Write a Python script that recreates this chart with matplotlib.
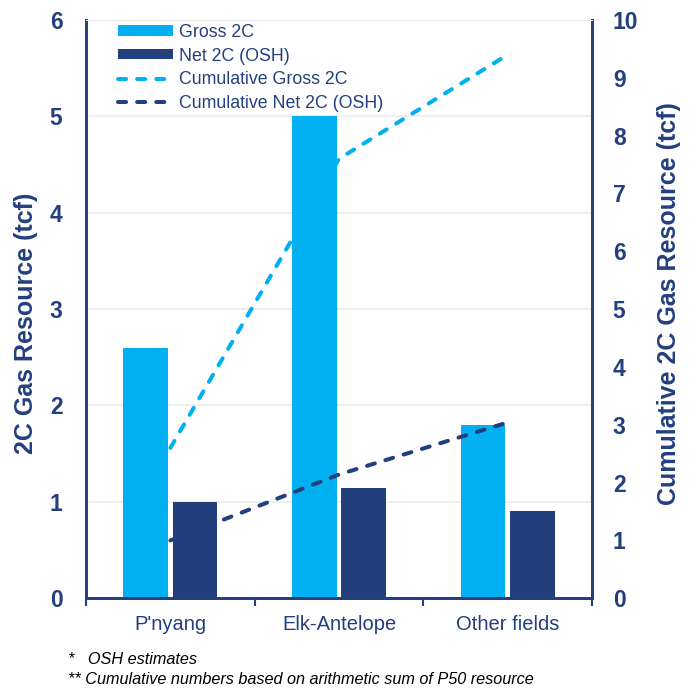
import numpy as np
import matplotlib
matplotlib.use("Agg")
import matplotlib.pyplot as plt

plt.rcParams['font.family'] = ['Liberation Sans', 'DejaVu Sans']

NAVY = "#243F7E"
LIGHT = "#00B0F0"

# --- Data ---
fields = ["P'nyang", "Elk-Antelope", "Other fields"]
gross_2c = [2.6, 5.0, 1.8]
net_2c = [1.0, 1.14, 0.9]
cum_gross = [2.6, 7.6, 9.4]
cum_net = [1.0, 2.14, 3.04]

fig = plt.figure(figsize=(6.94, 6.90), dpi=100)
ax = fig.add_axes([0.124, 0.133, 0.729, 0.838])
ax2 = ax.twinx()

x = np.arange(len(fields))
w = 0.265
ax.bar(x - w / 2 - 0.013, gross_2c, w, color=LIGHT, label="Gross 2C", zorder=2)
ax.bar(x + w / 2 + 0.013, net_2c, w, color=NAVY, label="Net 2C (OSH)", zorder=2)

dash = (0, (2.0, 2.75))
ax2.plot(x, cum_gross, color=LIGHT, lw=2.9, ls=dash,
         dash_capstyle='round', label="Cumulative Gross 2C")
ax2.plot(x, cum_net, color=NAVY, lw=2.9, ls=dash,
         dash_capstyle='round', label="Cumulative Net 2C (OSH)")

ax.set_xlim(-0.5, 2.5)
ax.set_ylim(0, 6)
ax2.set_ylim(0, 10)
ax.set_yticks(range(7))
ax2.set_yticks(range(11))
ax.yaxis.grid(True, color="#EBEBEB", lw=1.2, zorder=0)
ax.set_axisbelow(True)

ax.set_xticks(x)
ax.set_xticklabels(fields, fontsize=14.5, color=NAVY)
ax.set_xticks([-0.5, 0.5, 1.5, 2.5], minor=True)
ax.tick_params(axis='x', which='major', length=0, pad=12)
ax.tick_params(axis='x', which='minor', length=6, width=1.5, color=NAVY, direction='out')
ax.tick_params(axis='y', length=0, pad=17, labelsize=16.5, labelcolor=NAVY)
ax2.tick_params(axis='y', length=0, pad=15, labelsize=16.5, labelcolor=NAVY)
for lab in ax.get_yticklabels() + ax2.get_yticklabels():
    lab.set_fontweight('bold')

for a in (ax, ax2):
    for side in ('left', 'right', 'bottom'):
        a.spines[side].set_color(NAVY)
        a.spines[side].set_linewidth(2)
    a.spines['top'].set_color("#EBEBEB")

ax.set_ylabel("2C Gas Resource (tcf)", fontsize=18, fontweight='bold', color=NAVY)
ax2.set_ylabel("Cumulative 2C Gas Resource (tcf)", fontsize=18, fontweight='bold', color=NAVY)
# place axis titles at fixed spots (axes coords)
ax.yaxis.set_label_coords(-0.119, 0.476)
ax.yaxis.label.set_va('center')
ax2.yaxis.set_label_coords(1.152, 0.51)
ax2.yaxis.label.set_va('center')

h1, l1 = ax.get_legend_handles_labels()
h2, l2 = ax2.get_legend_handles_labels()
leg = ax2.legend(h1 + h2, l1 + l2, loc='upper left', bbox_to_anchor=(0.031, 1.021),
                 frameon=False, fontsize=12.8, handlelength=3.1, handleheight=0.5,
                 labelspacing=0.38, handletextpad=0.35)
for t in leg.get_texts():
    t.set_color(NAVY)

fig.text(0.098, 1 - 659 / 690, "*   OSH estimates", fontsize=11.7, style='italic',
         color='black', va='center')
fig.text(0.098, 1 - 679 / 690, "** Cumulative numbers based on arithmetic sum of P50 resource",
         fontsize=11.7, style='italic', color='black', va='center')

fig.savefig("out.png", dpi=100)
